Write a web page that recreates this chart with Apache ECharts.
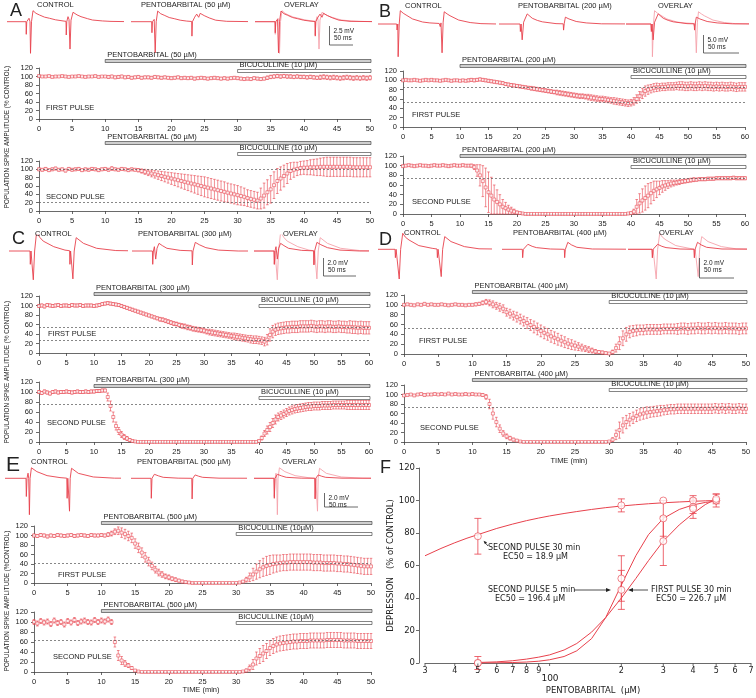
<!DOCTYPE html>
<html><head><meta charset="utf-8">
<script src="https://cdn.jsdelivr.net/npm/echarts@6/dist/echarts.min.js"></script>
<style>html,body{margin:0;padding:0;background:#fff}#c{width:756px;height:698px}</style>
</head><body><div id="c"></div>
<script>
// ---------------- DATA ----------------
const STEP = 0.5; // minutes between samples
// Panel A (50 uM)
const aFirstMean = [101,100,100,101,99,100,100,101,100,99, 100,100,101,100,99,100,100,101,99,100, 100,99,100,98,99,100,98,99,97,98, 99,97,98,98,97,99,98,97,98,97, 96,97,98,96,97,96,97,95,96,97, 96,95,96,97,96,95,96,95,96,97, 96,95,94,95,94,96,95,94,95,97, 99,100,101,100,101,100,100,99,100,99, 99,98,99,98,97,98,99,98,97,98, 97,96,97,98,97,96,97,96,97,96, 97];
const aFirstErr = [2,2,2,2,2,2,2,2,2,2, 2,2,2,2,2,2,2,2,2,2, 2,3,3,3,3,3,3,3,3,3, 3,3,3,3,3,3,3,3,3,3, 3,3,3,3,3,3,3,3,3,3, 3,3,3,3,3,3,3,3,3,3, 3,3,3,3,3,3,3,3,3,4, 4,4,4,4,4,4,4,4,4,4, 4,4,4,4,4,5,5,5,5,5, 5,5,5,5,5,5,5,5,5,5, 5];
const aSecondMean = [100,99,101,98,100,102,99,100,97,101, 99,100,101,98,100,99,101,100,98,100, 101,99,102,100,99,101,100,98,100,99, 98,96,94,92,90,88,86,84,82,80, 78,76,74,72,70,68,66,64,62,60, 58,56,54,52,50,48,46,44,42,40, 38,36,34,31,29,27,25,30,37,45, 52,62,72,78,84,90,96,99,101,103, 104,104,105,105,105,106,106,106,106,106, 106,106,106,106,106,105,105,105,105,105, 105];
const aSecondErr = [3,3,3,3,3,3,3,3,3,3, 3,3,3,3,3,3,3,3,3,3, 3,3,4,3,3,3,3,3,3,3, 4,5,6,7,8,9,10,11,12,13, 14,15,16,17,18,19,20,21,22,23, 24,24,24,24,24,24,24,23,23,23, 23,22,21,20,20,20,20,25,30,30, 33,32,30,28,26,24,20,18,16,16, 16,17,18,19,20,21,22,23,23,23, 23,23,23,23,23,23,23,23,23,23, 23];
// Panel B (200 uM)
const bFirstMean = [100,101,100,100,101,100,99,100,101,100, 101,100,100,99,100,101,100,99,100,100, 99,100,99,100,101,100,101,102,101,100, 99,98,97,96,95,94,92,91,90,89, 88,87,86,85,84,83,82,81,80,79, 78,77,76,75,74,73,72,71,70,69, 68,67,66,66,65,64,63,62,61,60, 60,59,58,57,56,55,54,53,52,51, 52,55,60,66,72,77,80,82,84,85, 85,86,86,87,87,87,88,88,88,87, 87,88,87,87,88,87,88,87,87,86, 87,86,87,86,86,87,86,85,86,86, 86];
const bFirstErr = [2,2,2,2,2,2,2,2,2,2, 2,2,2,2,2,2,2,2,2,2, 2,2,2,3,3,3,3,3,3,3, 3,3,3,3,3,3,3,3,3,3, 3,3,3,3,3,4,4,4,4,4, 4,4,4,4,5,5,5,5,5,5, 5,5,5,5,5,6,6,6,6,6, 6,6,6,6,7,7,7,7,7,7, 7,8,9,10,11,11,10,9,9,9, 8,8,8,8,8,8,8,9,9,9, 9,9,9,9,9,9,9,9,9,9, 9,9,9,9,9,9,9,9,9,9, 9];
const bSecondMean = [99,100,101,100,99,100,101,100,100,99, 100,101,100,100,101,100,99,100,101,100, 100,101,100,100,100,97,90,80,68,55, 45,38,30,25,20,15,12,9,7,5, 3,2,1,0,0,0,0,0,0,0, 0,0,0,0,0,0,0,0,0,0, 0,0,0,0,0,0,0,0,0,0, 0,0,0,0,0,0,0,0,0,1, 2,5,15,22,28,33,38,43,48,51, 54,57,59,61,63,64,65,66,67,68, 69,70,71,71,72,72,72,73,73,73, 74,74,74,74,74,74,75,74,74,74, 74];
const bSecondErr = [2,2,2,2,2,2,2,2,2,2, 2,2,2,2,2,2,2,2,2,2, 2,2,2,2,3,5,12,22,32,40, 42,38,30,25,20,15,12,9,7,5, 3,2,1,0,0,0,0,0,0,0, 0,0,0,0,0,0,0,0,0,0, 0,0,0,0,0,0,0,0,0,0, 0,0,0,0,0,0,0,0,0,1, 2,5,15,20,24,25,25,22,20,17, 14,12,10,8,7,6,5,5,4,4, 4,4,4,3,3,3,3,3,3,3, 3,3,3,3,3,3,3,3,3,3, 3];
// Panel C (300 uM)
const cFirstMean = [99,100,98,101,100,99,100,101,99,100, 100,99,101,100,100,101,99,100,100,100, 99,100,101,103,104,105,104,103,102,101, 99,97,95,93,91,89,87,85,83,81, 79,77,75,73,71,70,68,66,64,62, 61,59,57,56,54,53,51,50,49,48, 47,45,44,43,42,41,40,39,38,37, 36,35,34,33,32,31,30,29,28,28, 27,26,24,28,38,45,49,51,52,53, 54,54,55,55,55,56,56,56,56,57, 56,55,56,56,55,56,56,55,55,56, 55,55,54,55,54,54,53,54,53,53, 53];
const cFirstErr = [3,3,3,3,3,3,3,3,3,3, 3,3,3,3,3,3,3,3,3,3, 3,3,3,3,3,3,3,3,3,3, 3,3,3,3,3,3,3,3,3,3, 3,3,3,3,4,4,4,4,4,4, 4,4,5,5,5,5,5,5,5,5, 5,5,6,6,6,6,6,6,6,6, 6,7,7,7,7,7,7,8,8,8, 8,8,9,11,13,13,12,12,12,12, 12,12,12,12,12,12,12,12,12,12, 12,12,12,12,12,12,12,12,12,12, 12,12,12,13,13,13,13,13,13,13, 13];
const cSecondMean = [100,98,101,99,97,100,101,99,100,100, 101,100,99,100,101,100,100,101,100,101, 101,102,102,103,103,90,72,50,32,22, 15,10,7,4,2,1,0,0,0,0, 0,0,0,0,0,0,0,0,0,0, 0,0,0,0,0,0,0,0,0,0, 0,0,0,0,0,0,0,0,0,0, 0,0,0,0,0,0,0,0,0,0, 2,8,17,24,30,38,45,50,53,56, 59,62,64,66,67,68,69,70,71,71, 72,72,72,73,73,73,73,74,74,74, 74,74,74,74,74,74,74,74,74,74, 74];
const cSecondErr = [3,3,3,3,3,3,3,3,3,3, 3,3,3,3,3,3,3,3,3,3, 3,3,3,3,3,8,10,10,8,7, 6,5,4,3,2,1,0,0,0,0, 0,0,0,0,0,0,0,0,0,0, 0,0,0,0,0,0,0,0,0,0, 0,0,0,0,0,0,0,0,0,0, 0,0,0,0,0,0,0,0,0,0, 2,4,6,8,9,9,9,8,8,8, 8,8,8,8,8,8,8,8,8,8, 8,8,8,8,8,8,8,8,8,8, 8,8,9,9,9,9,9,9,9,9, 9];
// Panel D (400 uM)
const dFirstMean = [100,101,100,99,101,100,102,100,101,100, 100,101,100,99,100,101,100,100,99,100, 100,101,102,104,106,104,101,98,95,92, 85,82,78,75,71,67,63,59,55,51, 47,43,40,36,33,30,27,24,21,19, 17,15,13,11,9,7,5,4,3,2, 1,4,12,22,32,40,45,47,48,49, 49,50,50,50,50,50,51,51,51,51, 51,52,52,51,52,52,53,52,52,53, 52,53,52,52,53,52,52,52,51,52, 52];
const dFirstErr = [2,2,2,2,2,2,2,2,2,2, 2,2,2,2,2,2,2,2,2,2, 2,3,3,4,5,6,7,7,8,8, 8,9,9,10,10,10,11,11,12,12, 12,12,12,12,12,12,11,11,10,10, 9,8,7,6,6,5,4,3,3,2, 2,4,8,13,15,14,12,11,11,10, 10,10,10,10,10,10,10,10,10,10, 11,11,11,11,11,11,11,11,11,11, 11,11,11,11,11,11,11,11,11,11, 11];
const dSecondMean = [98,99,100,98,100,101,99,100,100,101, 100,101,100,102,100,101,100,100,101,100, 101,100,100,99,95,80,60,42,28,18, 12,8,5,3,1,0,0,0,0,0, 0,0,0,0,0,0,0,0,0,0, 0,0,0,0,0,0,0,0,0,0, 1,5,15,25,35,42,47,51,55,58, 60,62,63,64,65,66,67,68,69,69, 70,70,70,70,70,70,70,70,70,70, 70,71,70,71,70,71,70,70,71,70, 70];
const dSecondErr = [2,2,2,2,2,2,2,2,2,2, 2,2,2,2,2,2,2,2,2,2, 2,2,2,3,5,10,12,10,8,6, 5,4,3,2,1,0,0,0,0,0, 0,0,0,0,0,0,0,0,0,0, 0,0,0,0,0,0,0,0,0,0, 1,4,10,17,16,14,13,12,12,12, 12,12,11,11,11,11,10,10,10,10, 10,10,10,10,10,10,10,10,10,10, 10,10,10,10,10,10,10,10,10,10, 10];
// Panel E (500 uM)
const eFirstMean = [100,99,101,100,98,100,99,101,100,99, 100,101,99,100,101,100,99,101,100,100, 101,100,102,104,108,110,106,103,99,95, 83,74,64,54,45,36,28,22,18,14, 12,9,7,5,3,2,1,0,0,0, 0,0,0,0,0,0,0,0,0,0, 0,1,3,7,12,18,24,29,33,36, 38,40,41,42,43,43,44,44,44,44, 44,44,44,43,43,43,42,42,42,42, 41,41,40,40,39,38,37,36,35,35, 35];
const eFirstErr = [3,3,3,3,3,3,3,3,3,3, 3,3,3,3,3,3,3,3,3,3, 3,3,4,5,6,8,10,10,10,10, 10,10,10,10,9,8,7,7,6,5, 5,4,4,3,3,2,2,1,0,0, 0,0,0,0,0,0,0,0,0,0, 0,1,2,5,9,13,16,18,19,20, 20,19,18,17,17,17,17,17,17,17, 17,17,17,17,17,17,17,17,17,17, 17,17,17,17,17,17,17,17,17,17, 17];
const eSecondMean = [100,97,102,99,101,96,103,98,100,95, 102,99,104,98,101,103,100,99,104,100, 103,101,105,100,60,33,23,17,13,8, 3,1,0,0,0,0,0,0,0,0, 0,0,0,0,0,0,0,0,0,0, 0,0,0,0,0,0,0,0,0,0, 0,0,1,3,8,15,27,32,37,42, 48,52,55,57,58,59,60,61,61,62, 62,62,63,63,63,63,63,64,64,64, 64,64,63,63,63,63,62,62,62,62, 62];
const eSecondErr = [5,5,5,5,5,5,5,5,5,5, 5,5,5,5,5,5,5,5,5,5, 5,5,5,5,10,10,8,6,4,3, 2,1,0,0,0,0,0,0,0,0, 0,0,0,0,0,0,0,0,0,0, 0,0,0,0,0,0,0,0,0,0, 0,0,1,3,6,10,13,15,16,15, 15,15,15,15,15,15,15,15,15,15, 15,15,15,15,15,15,15,15,15,15, 15,15,15,15,15,15,15,15,15,15, 15];

// drug application (min) and reference levels
const pentoStart = {A:10, B:10, C:10, D:10, E:10};
const bicStart = {A:30, B:40, C:40, D:30, E:30};
const pentoLabels = {A:'PENTOBARBITAL (50 µM)', B:'PENTOBARBITAL (200 µM)', C:'PENTOBARBITAL (300 µM)', D:'PENTOBARBITAL (400 µM)', E:'PENTOBARBITAL (500 µM)'};
const bicLabels = {A:'BICUCULLINE (10 µM)', B:'BICUCULLINE (10 µM)', C:'BICUCULLINE (10 µM)', D:'BICUCULLINE (10 µM)', E:'BICUCULLINE (10µM)'};
const dashFirst = {A:[], B:[85,52], C:[55,26], D:[53], E:[42]};
const dashSecond = {A:[100,21], B:[75], C:[75], D:[73], E:[64]};

// sample traces: [ms, mV]
const aControl = [[-20,0],[30,0],[30.5,-1.66],[31.5,0],[36,0.45],[38,0],[39,-4.16],[41,0],[44,1.45],[50,1.1],[57,0.88],[67,0.6],[77,0.45],[89,0.25],[104,0.1],[110,0.05],[110.5,-1.75],[111.5,0],[114,0.66],[116,0.3],[118,-3.6],[120,0.2],[124,1.24],[132,0.9],[140,0.66],[153,0.4],[163,0.22],[183,0.1],[200,0.04],[240,0]];
const aDrug = [[-20,0],[30,0],[30.5,-1.45],[31.5,0],[35,0.3],[37,-4.1],[39,0],[42,1.4],[48,1.05],[55,0.85],[65,0.55],[75,0.4],[87,0.2],[100,0.08],[110,0.03],[110.5,-1.9],[111.5,0],[116,0.6],[120,1.0],[124,0.58],[127,1.1],[135,0.8],[145,0.5],[158,0.2],[180,0.05],[240,0]];
const bControl = [[-20,0],[30,0],[30.5,-1.67],[31.5,0],[32,-9.1],[33.5,0],[35,3.7],[39,3.0],[43,2.5],[52,1.4],[66,0.55],[76,0.3],[89,0.15],[90,0.1],[90.5,-0.74],[91.5,0.3],[93,-8.0],[94.5,0.5],[96,3.4],[100,2.8],[104,2.3],[116,1.1],[132,0.4],[147,0.1],[170,0],[200,0]];
const bDrug = [[-20,0],[30,0],[30.5,-2.1],[31.5,0],[33,-4.4],[35,0.5],[40,2.8],[47,1.6],[54,1.0],[61,0.6],[80,0.1],[90,0.05],[90.5,-1.7],[91.5,0.2],[93,1.9],[98,1.4],[108,0.7],[122,0.3],[143,0.05],[200,0]];
const cControl = [[-20,0],[30,0],[30.5,-1.48],[31.5,0],[35,-3.2],[37,0],[40,2.1],[45,1.5],[50,1.1],[66,0.48],[83,0.1],[90,0.03],[90.5,-1.48],[91.5,0],[95,-3.1],[97,0],[100,1.48],[111,0.85],[131,0.3],[160,0.05],[200,0]];
const cDrug = [[-20,0],[30,0],[30.5,-1.48],[31.5,0],[33,0.48],[35,-0.9],[37,0.3],[40,0.85],[45,0.6],[52,0.3],[72,0.07],[90,0.02],[90.5,-1.55],[91.5,0],[95,0.96],[101,0.7],[111,0.37],[130,0.1],[160,0],[200,0]];
const dControl = [[-20,0],[30,0],[30.5,-0.84],[31.5,0],[36,-2.97],[38,0],[41,1.6],[45,1.2],[50,0.93],[64,0.37],[83,0.1],[90,0.03],[90.5,-0.84],[91.5,0],[96,-2.73],[98,0],[101,1.27],[110,0.77],[129,0.27],[150,0.05],[200,0]];
const dDrug = [[-20,0],[30,0],[30.5,-0.84],[31.5,0],[38,0.5],[44,0.3],[50,0.17],[70,0.03],[90,0],[90.5,-0.84],[91.5,0],[95,0.7],[100,0.45],[108,0.2],[130,0.03],[200,0]];
const eControl = [[-20,0],[30,0],[30.5,-2.6],[31.5,0],[33,0.73],[34,0],[35,-5.2],[36,0],[38,1.5],[46,0.95],[61,0.38],[80,0.1],[90,0.02],[90.5,-2.86],[91.5,0],[94,-4.7],[95,0],[97,1.43],[107,0.71],[129,0.19],[160,0.02],[200,0]];
const eDrug = [[-20,0],[30,0],[30.5,-2.86],[31.5,0],[35,0.57],[41,0.35],[48,0.14],[70,0.02],[90,0],[90.5,-2.95],[91.5,0],[95,0.48],[100,0.3],[106,0.14],[130,0.02],[200,0]];

// Panel F: dose-response
const fConc = [50,200,300,400,500];
const f30Mean = [78,97,100,100,100];  const f30Err = [11,4,0,3,0];
const f5Mean  = [0,52,89,96,100];     const f5Err  = [4,14,11,4,4];
const f1Mean  = [0,45,75,95,101];     const f1Err  = [0,12,15,6,3];
const fFit30X = [30,35,40,45,50,60,70,80,90,100,115,130,150,172,200,230,260,300,350,400,450,500];
const fFit30Y = [66,70.5,74,76.8,79,82.8,85.5,87.6,89.2,90.5,92,93.2,94.5,95.6,96.6,97.4,98,98.6,99.1,99.5,99.8,100];
const fFitX   = [50,60,70,80,90,100,115,130,150,172,200,230,260,300,350,400,450,500];
const fFit5Y  = [0,0.1,0.3,0.6,1.1,2,4,7.5,15,28,48,66,79,89,94.5,97.3,98.8,99.6];
const fFit1Y  = [0.3,0.7,1.4,2.4,3.6,5,8,12,19,28,40,52,63,75,85,92,97.5,101];
const fTickValues = [30,40,50,60,70,80,90,100,200,300,400,500,600,700];
const fTickLabels = ['3','4','5','6','7','8','9','','2','3','4','5','6','7'];

// ---------------- STYLE / LAYOUT ----------------
const FONT = 'Liberation Sans, Arial, Helvetica, sans-serif';
const FONTF = 'DejaVu Sans, Verdana, sans-serif';
const RED = '#e8414c', PINK = '#f5a3ab', AX = '#444', TXT = '#222';
const grids=[], xAxes=[], yAxes=[], series=[], graphics=[];

function addText(x,y,text,size,o={}){
  graphics.push({type:'text', x, y, rotation:o.rot||0, z:10, silent:true,
    style:{text, fontSize:size, fontFamily:o.family||FONT, fill:o.fill||TXT,
      align:o.align||'left', verticalAlign:o.va||'middle'}});
}
function addLine(x1,y1,x2,y2,w,c){
  graphics.push({type:'line', z:10, silent:true, shape:{x1,y1,x2,y2}, style:{stroke:c||AX, lineWidth:w||0.8}});
}
function addPoly(points){
  graphics.push({type:'polygon', z:10, silent:true, shape:{points}, style:{fill:'#222'}});
}

function errRender(cap, color, lw){
  return function(params, api){
    const t=api.value(0), m=api.value(1), e=api.value(2);
    if(!e) return {type:'group', children:[]};
    const a=api.coord([t,m+e]), b=api.coord([t,m-e]);
    const st={stroke:color, lineWidth:lw};
    return {type:'group', children:[
      {type:'line', shape:{x1:a[0],y1:a[1],x2:a[0],y2:b[1]}, style:st},
      {type:'line', shape:{x1:a[0]-cap,y1:a[1],x2:a[0]+cap,y2:a[1]}, style:st},
      {type:'line', shape:{x1:a[0]-cap,y1:b[1],x2:a[0]+cap,y2:b[1]}, style:st}
    ]};
  };
}

function timePlot(p){
  const gi = grids.length;
  grids.push({left:p.left, top:p.top, width:p.width, height:p.height});
  xAxes.push({gridIndex:gi, type:'value', min:0, max:p.xMax, interval:5, offset:3,
    axisLine:{show:true, lineStyle:{color:AX, width:0.8}},
    axisTick:{show:true, length:3, lineStyle:{color:AX, width:0.8}},
    axisLabel:{fontSize:7.5, color:TXT, margin:3, fontFamily:FONT},
    splitLine:{show:false}});
  yAxes.push({gridIndex:gi, type:'value', min:0, max:120, interval:20, offset:3,
    axisLine:{show:true, lineStyle:{color:AX, width:0.8}},
    axisTick:{show:true, length:3, lineStyle:{color:AX, width:0.8}},
    axisLabel:{fontSize:7.5, color:TXT, margin:3, fontFamily:FONT},
    splitLine:{show:false}});
  const pts = p.mean.map((m,i)=>[i*STEP, m, p.err[i]]);
  series.push({type:'custom', xAxisIndex:gi, yAxisIndex:gi, data:pts, clip:false, silent:true, z:2,
    renderItem: errRender(1.3, RED, 0.6)});
  series.push({type:'scatter', xAxisIndex:gi, yAxisIndex:gi, data:pts.map(d=>[d[0],d[1]]),
    symbol:'rect', symbolSize:3, silent:true, z:3,
    itemStyle:{color:'#fff', borderColor:RED, borderWidth:0.7},
    markLine:{silent:true, symbol:['none','none'], label:{show:false},
      lineStyle:{type:[2,2], color:'#555', width:0.7},
      data:p.dashed.map(v=>({yAxis:v}))}});
  const bars = [
    {fill:'#cfcfcf', dy:p.pentoDy, label:p.pentoLabel},
    {fill:'#ffffff', dy:p.bicDy, label:p.bicLabel}
  ];
  series.push({type:'custom', xAxisIndex:gi, yAxisIndex:gi, clip:false, silent:true, z:4,
    data:[[p.pentoStart, p.xMax], [p.bicStart, p.xMax]],
    renderItem(params, api){
      const b = bars[params.dataIndex];
      const s = api.coord([api.value(0),120]), e = api.coord([api.value(1),120]);
      const y = s[1] + b.dy;
      return {type:'group', children:[
        {type:'rect', shape:{x:s[0], y:y-1.5, width:e[0]-s[0]+1, height:3},
          style:{fill:b.fill, stroke:'#333', lineWidth:0.6}},
        {type:'text', x:s[0]+2, y:y-2, style:{text:b.label, fontSize:7.5, fontFamily:FONT, fill:TXT, align:'left', verticalAlign:'bottom'}}
      ]};
    }});
  addText(p.pulseX, p.pulseY, p.pulseLabel, 7.5);
}

function tracePanel(cfg){
  cfg.windows.forEach((w, k)=>{
    const gi = grids.length;
    grids.push({left:w.left, top:cfg.base-16, width:w.width, height:56});
    xAxes.push({gridIndex:gi, type:'value', show:false, min:w.t0, max:w.t0 + w.width/cfg.pxMs});
    yAxes.push({gridIndex:gi, type:'value', show:false, min:-40/cfg.pxMv, max:16/cfg.pxMv});
    const lines = k===0 ? [[cfg.control, RED]] : k===1 ? [[cfg.drug, RED]] : [[cfg.control, PINK],[cfg.drug, RED]];
    lines.forEach(([d,c])=>series.push({type:'line', xAxisIndex:gi, yAxisIndex:gi, data:d, showSymbol:false, silent:true,
      clip:true, lineStyle:{color:c, width:0.9}, z:2}));
  });
  cfg.labels.forEach(l=>addText(l[0], l[1], l[2], 7.5));
  const s = cfg.scale;
  addLine(s.x, s.y1, s.x, s.y2, 0.8);
  addLine(s.x, s.y2, s.x2, s.y2, 0.8);
  addText(s.x+4, s.y1+5, s.mv, 6.5);
  addText(s.x+4.5, s.y1+12.5, '50 ms', 6.5);
  addText(cfg.letter[0], cfg.letter[1], cfg.letter[2], cfg.letter[3]||18, {va:'top'});
}

// ---- traces ----
tracePanel({base:21.7, pxMs:0.5, pxMv:7.6, control:aControl, drug:aDrug,
  windows:[{left:8,width:115,t0:-6},{left:132,width:115,t0:-9.4},{left:256,width:115,t0:-8}],
  labels:[[37,5,'CONTROL'],[141,5,'PENTOBARBITAL (50 µM)'],[284,5,'OVERLAY']],
  scale:{x:329.5,y1:26,y2:45,x2:353,mv:'2.5 mV'}, letter:[10,2,'A']});
tracePanel({base:24, pxMs:0.72, pxMv:3.6, control:bControl, drug:bDrug,
  windows:[{left:379,width:116,t0:5.4},{left:500,width:124,t0:2.2},{left:627,width:121,t0:-3.3}],
  labels:[[405,6,'CONTROL'],[518,6,'PENTOBARBITAL (200 µM)'],[658,6,'OVERLAY']],
  scale:{x:703.5,y1:35,y2:53,x2:739,mv:'5.0 mV'}, letter:[379,3,'B']});
tracePanel({base:251, pxMs:0.66, pxMv:9, control:cControl, drug:cDrug,
  windows:[{left:10,width:117,t0:-0.3},{left:133,width:114,t0:0.6},{left:255,width:113,t0:1.2}],
  labels:[[35,234,'CONTROL'],[138,234,'PENTOBARBITAL (300 µM)'],[283,234,'OVERLAY']],
  scale:{x:323.5,y1:258,y2:276,x2:356,mv:'2.0 mV'}, letter:[12,230,'C']});
tracePanel({base:249.3, pxMs:0.7, pxMv:10, control:dControl, drug:dDrug,
  windows:[{left:379,width:112,t0:7.1},{left:503,width:122,t0:2.4},{left:629,width:117,t0:-2.9}],
  labels:[[404,233,'CONTROL'],[513,233,'PENTOBARBITAL (400 µM)'],[659,233,'OVERLAY']],
  scale:{x:699.5,y1:258,y2:278,x2:734,mv:'2.0 mV'}, letter:[379,231,'D']});
tracePanel({base:478.3, pxMs:0.68, pxMv:7, control:eControl, drug:eDrug,
  windows:[{left:6,width:114,t0:0.6},{left:132,width:114,t0:2.1},{left:255,width:115,t0:2.1}],
  labels:[[31,462,'CONTROL'],[137,462,'PENTOBARBITAL (500 µM)'],[282,462,'OVERLAY']],
  scale:{x:324.5,y1:493,y2:507,x2:358,mv:'2.0 mV'}, letter:[6,455,'E',21]});

// ---- time courses ----
const P = (o)=>timePlot(o);
P({left:39,top:68,width:331,height:51,xMax:50,mean:aFirstMean,err:aFirstErr,dashed:dashFirst.A,pentoStart:pentoStart.A,bicStart:bicStart.A,pentoLabel:pentoLabels.A,bicLabel:bicLabels.A,pentoDy:-7,bicDy:3,pulseLabel:'FIRST PULSE',pulseX:46,pulseY:108});
P({left:39,top:161,width:331,height:50,xMax:50,mean:aSecondMean,err:aSecondErr,dashed:dashSecond.A,pentoStart:pentoStart.A,bicStart:bicStart.A,pentoLabel:pentoLabels.A,bicLabel:bicLabels.A,pentoDy:-18,bicDy:-7,pulseLabel:'SECOND PULSE',pulseX:46,pulseY:197});
P({left:403,top:71,width:342,height:56,xMax:60,mean:bFirstMean,err:bFirstErr,dashed:dashFirst.B,pentoStart:pentoStart.B,bicStart:bicStart.B,pentoLabel:pentoLabels.B,bicLabel:bicLabels.B,pentoDy:-5,bicDy:6,pulseLabel:'FIRST PULSE',pulseX:412,pulseY:115});
P({left:403,top:156,width:342,height:58,xMax:60,mean:bSecondMean,err:bSecondErr,dashed:dashSecond.B,pentoStart:pentoStart.B,bicStart:bicStart.B,pentoLabel:pentoLabels.B,bicLabel:bicLabels.B,pentoDy:0,bicDy:11,pulseLabel:'SECOND PULSE',pulseX:412,pulseY:202});
P({left:39,top:296,width:330,height:57,xMax:60,mean:cFirstMean,err:cFirstErr,dashed:dashFirst.C,pentoStart:pentoStart.C,bicStart:bicStart.C,pentoLabel:pentoLabels.C,bicLabel:bicLabels.C,pentoDy:-2,bicDy:10,pulseLabel:'FIRST PULSE',pulseX:48,pulseY:334});
P({left:39,top:382,width:330,height:60,xMax:60,mean:cSecondMean,err:cSecondErr,dashed:dashSecond.C,pentoStart:pentoStart.C,bicStart:bicStart.C,pentoLabel:pentoLabels.C,bicLabel:bicLabels.C,pentoDy:4,bicDy:16,pulseLabel:'SECOND PULSE',pulseX:47,pulseY:423});
P({left:404,top:295,width:342,height:59,xMax:50,mean:dFirstMean,err:dFirstErr,dashed:dashFirst.D,pentoStart:pentoStart.D,bicStart:bicStart.D,pentoLabel:pentoLabels.D,bicLabel:bicLabels.D,pentoDy:-3,bicDy:7,pulseLabel:'FIRST PULSE',pulseX:419,pulseY:341});
P({left:404,top:385,width:342,height:57,xMax:50,mean:dSecondMean,err:dSecondErr,dashed:dashSecond.D,pentoStart:pentoStart.D,bicStart:bicStart.D,pentoLabel:pentoLabels.D,bicLabel:bicLabels.D,pentoDy:-5,bicDy:5,pulseLabel:'SECOND PULSE',pulseX:420,pulseY:428});
P({left:34,top:526,width:337,height:57,xMax:50,mean:eFirstMean,err:eFirstErr,dashed:dashFirst.E,pentoStart:pentoStart.E,bicStart:bicStart.E,pentoLabel:pentoLabels.E,bicLabel:bicLabels.E,pentoDy:-3,bicDy:8,pulseLabel:'FIRST PULSE',pulseX:58,pulseY:575});
P({left:34,top:612,width:337,height:60,xMax:50,mean:eSecondMean,err:eSecondErr,dashed:dashSecond.E,pentoStart:pentoStart.E,bicStart:bicStart.E,pentoLabel:pentoLabels.E,bicLabel:bicLabels.E,pentoDy:-1,bicDy:11,pulseLabel:'SECOND PULSE',pulseX:53,pulseY:657});

const YT = 'POPULATION SPIKE AMPLITUDE (% CONTROL)';
addText(7,137,YT,6.3,{align:'center',rot:Math.PI/2});
addText(7,372,YT,6.3,{align:'center',rot:Math.PI/2});
addText(7,601,'POPULATION SPIKE AMPLITUDE (%CONTROL)',6.3,{align:'center',rot:Math.PI/2});
addText(569,461,'TIME (min)',7.5,{align:'center'});
addText(201,690,'TIME (min)',7.5,{align:'center'});

// ---- Panel F ----
const fi = grids.length;
grids.push({left:425, top:468, width:326, height:195});
xAxes.push({gridIndex:fi, type:'log', logBase:10, min:30, max:700, offset:3,
  axisLine:{show:true, lineStyle:{color:AX, width:0.8}}, axisTick:{show:false}, axisLabel:{show:false},
  splitLine:{show:false}, minorTick:{show:false}, minorSplitLine:{show:false}});
yAxes.push({gridIndex:fi, type:'value', min:0, max:120, interval:20, offset:6,
  axisLine:{show:true, lineStyle:{color:AX, width:0.8}},
  axisTick:{show:true, length:3, lineStyle:{color:AX, width:0.8}},
  axisLabel:{fontSize:8.5, color:TXT, margin:4, fontFamily:FONTF}, splitLine:{show:false},
  name:'DEPRESSION   (% of CONTROL)', nameLocation:'middle', nameGap:21,
  nameTextStyle:{fontSize:8.5, fontFamily:FONTF, color:TXT}});
const fLine = (xs, ys)=>({type:'line', xAxisIndex:fi, yAxisIndex:fi, data:xs.map((x,i)=>[x,ys[i]]),
  showSymbol:false, smooth:false, silent:true, lineStyle:{color:RED, width:1}, z:2});
series.push(fLine(fFit30X, fFit30Y), fLine(fFitX, fFit5Y), fLine(fFitX, fFit1Y));
[[f30Mean,f30Err],[f5Mean,f5Err],[f1Mean,f1Err]].forEach(([m,e])=>{
  const d = fConc.map((c,i)=>[c, m[i], e[i]]);
  series.push({type:'custom', xAxisIndex:fi, yAxisIndex:fi, data:d, clip:false, silent:true, z:3,
    renderItem: errRender(3.5, RED, 0.8)});
  series.push({type:'scatter', xAxisIndex:fi, yAxisIndex:fi, data:d.map(v=>[v[0],v[1]]), symbol:'circle', symbolSize:7,
    silent:true, z:4, itemStyle:{color:'#fff', borderColor:RED, borderWidth:0.8}});
});
series.push({type:'custom', xAxisIndex:fi, yAxisIndex:fi, clip:false, silent:true, z:5,
  data:fTickValues.map((v,i)=>[v,0,i]),
  renderItem(params, api){
    const p = api.coord([api.value(0), 0]);
    const y0 = p[1] + 3;
    return {type:'group', children:[
      {type:'line', shape:{x1:p[0], y1:y0-2.5, x2:p[0], y2:y0}, style:{stroke:AX, lineWidth:0.8}},
      {type:'text', x:p[0], y:y0+1, style:{text:fTickLabels[params.dataIndex], fontSize:8, fontFamily:FONTF, fill:TXT, align:'center', verticalAlign:'top'}}
    ]};
  }});
addText(550,679,'100',9,{align:'center',family:FONTF});
addText(593,691,'PENTOBABRITAL  (µM)',8.5,{align:'center',family:FONTF});
addText(380,459,'F',18,{va:'top'});
addText(488,548,'SECOND PULSE 30 min',8,{family:FONTF});
addText(503,557,'EC50 = 18.9 µM',8,{family:FONTF});
addLine(488,546,484.5,542,0.8,'#222'); addPoly([[483.5,540.8],[487,542.2],[485,544.2]]);
addText(488,590,'SECOND PULSE 5 min',8,{family:FONTF});
addText(495,599,'EC50 = 196.4 µM',8,{family:FONTF});
addLine(574,590,607,590,0.8,'#222'); addPoly([[611,590],[606,588],[606,592]]);
addText(651,590,'FIRST PULSE 30 min',8,{family:FONTF});
addText(656,599,'EC50 = 226.7 µM',8,{family:FONTF});
addLine(632,590,648,590,0.8,'#222'); addPoly([[628,590],[633,588],[633,592]]);

const chart = echarts.init(document.getElementById('c'), null, {renderer:'canvas'});
chart.setOption({animation:false, backgroundColor:'#fff', grid:grids, xAxis:xAxes, yAxis:yAxes, series, graphic:{elements:graphics}});
</script></body></html>
